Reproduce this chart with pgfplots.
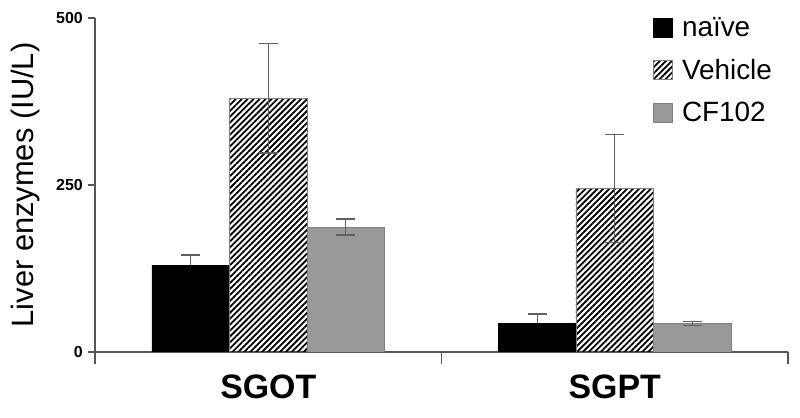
\documentclass[border=0pt]{standalone}
\usepackage{fontspec}
\setmainfont{Liberation Sans}
\usepackage{pgfplots}
\pgfplotsset{compat=1.18}
\usetikzlibrary{patterns.meta}
\definecolor{axgray}{HTML}{555555}
\definecolor{errgray}{HTML}{606060}
\definecolor{outgray}{HTML}{808080}
\definecolor{cffill}{HTML}{999999}
\begin{document}
\begin{tikzpicture}
\begin{axis}[
  at={(95bp,66bp)}, anchor=south west,
  scale only axis, width=693bp, height=334bp,
  xmin=-0.5, xmax=1.5, ymin=0, ymax=500,
  enlargelimits=false,
  axis x line*=bottom, axis y line*=left,
  axis line style={draw=axgray, line width=1.2bp},
  ybar=0pt, bar width=0.2237,
  ytick={0,250,500},
  ytick style={draw=axgray, line width=1.2bp},
  major tick length=7bp,
  tick align=outside,
  y tick label style={font=\bfseries\fontsize{16}{16}\selectfont, inner sep=0pt, xshift=-5bp},
  /pgf/number format/assume math mode=true,
  xtick={0,1}, xticklabels={SGOT,SGPT},
  x tick style={draw=none},
  x tick label style={font=\bfseries\fontsize{34}{34}\selectfont, inner sep=0pt, anchor=north, yshift=-16bp},
  extra x ticks={-0.5,0.5,1.5}, extra x tick labels={},
  extra x tick style={x tick style={draw=axgray, line width=1.2bp, /pgfplots/major tick length=12bp}},
  ylabel={Liver enzymes (IU/L)},
  ylabel style={font=\fontsize{31}{31}\selectfont, at={(axis description cs:-0.079,0.5)}, anchor=south, inner sep=0pt},
  legend style={draw=none, fill=none, at={(axis description cs:0.8052,1.003)}, anchor=north west,
    font=\fontsize{28}{28}\selectfont, inner sep=0pt, row sep=21bp,
    nodes={inner sep=0pt},
    /tikz/every odd column/.append style={column sep=9bp}},
  legend cell align=left,
  legend image code/.code={\draw[#1,line width=0.8bp] (0bp,-10bp) rectangle (19bp,9bp);},
  error bars/error bar style={draw=errgray, line width=1.3bp},
  error bars/error mark options={rotate=90, mark size=9.5bp, line width=1.3bp, draw=errgray},
]
\addplot[fill=black, draw=black,
  error bars/.cd, y dir=plus, y explicit]
  coordinates {(0,130) +- (0,15) (1,43) +- (0,14)};
\addlegendentry{naïve}
\addplot[draw=outgray, line width=0.8bp, pattern={Lines[angle=45,distance=4.2bp,line width=1.8bp]}, pattern color=black,
  error bars/.cd, y dir=both, y explicit]
  coordinates {(0,380) +- (0,82) (1,245) +- (0,81)};
\addlegendentry{Vehicle}
\addplot[fill=cffill, draw=outgray, line width=0.8bp,
  error bars/.cd, y dir=both, y explicit]
  coordinates {(0,187) +- (0,12) (1,43) +- (0,3)};
\addlegendentry{CF102}
\end{axis}
\pgfresetboundingbox
\useasboundingbox (0,0) rectangle (800bp,418bp);
\end{tikzpicture}
\end{document}
